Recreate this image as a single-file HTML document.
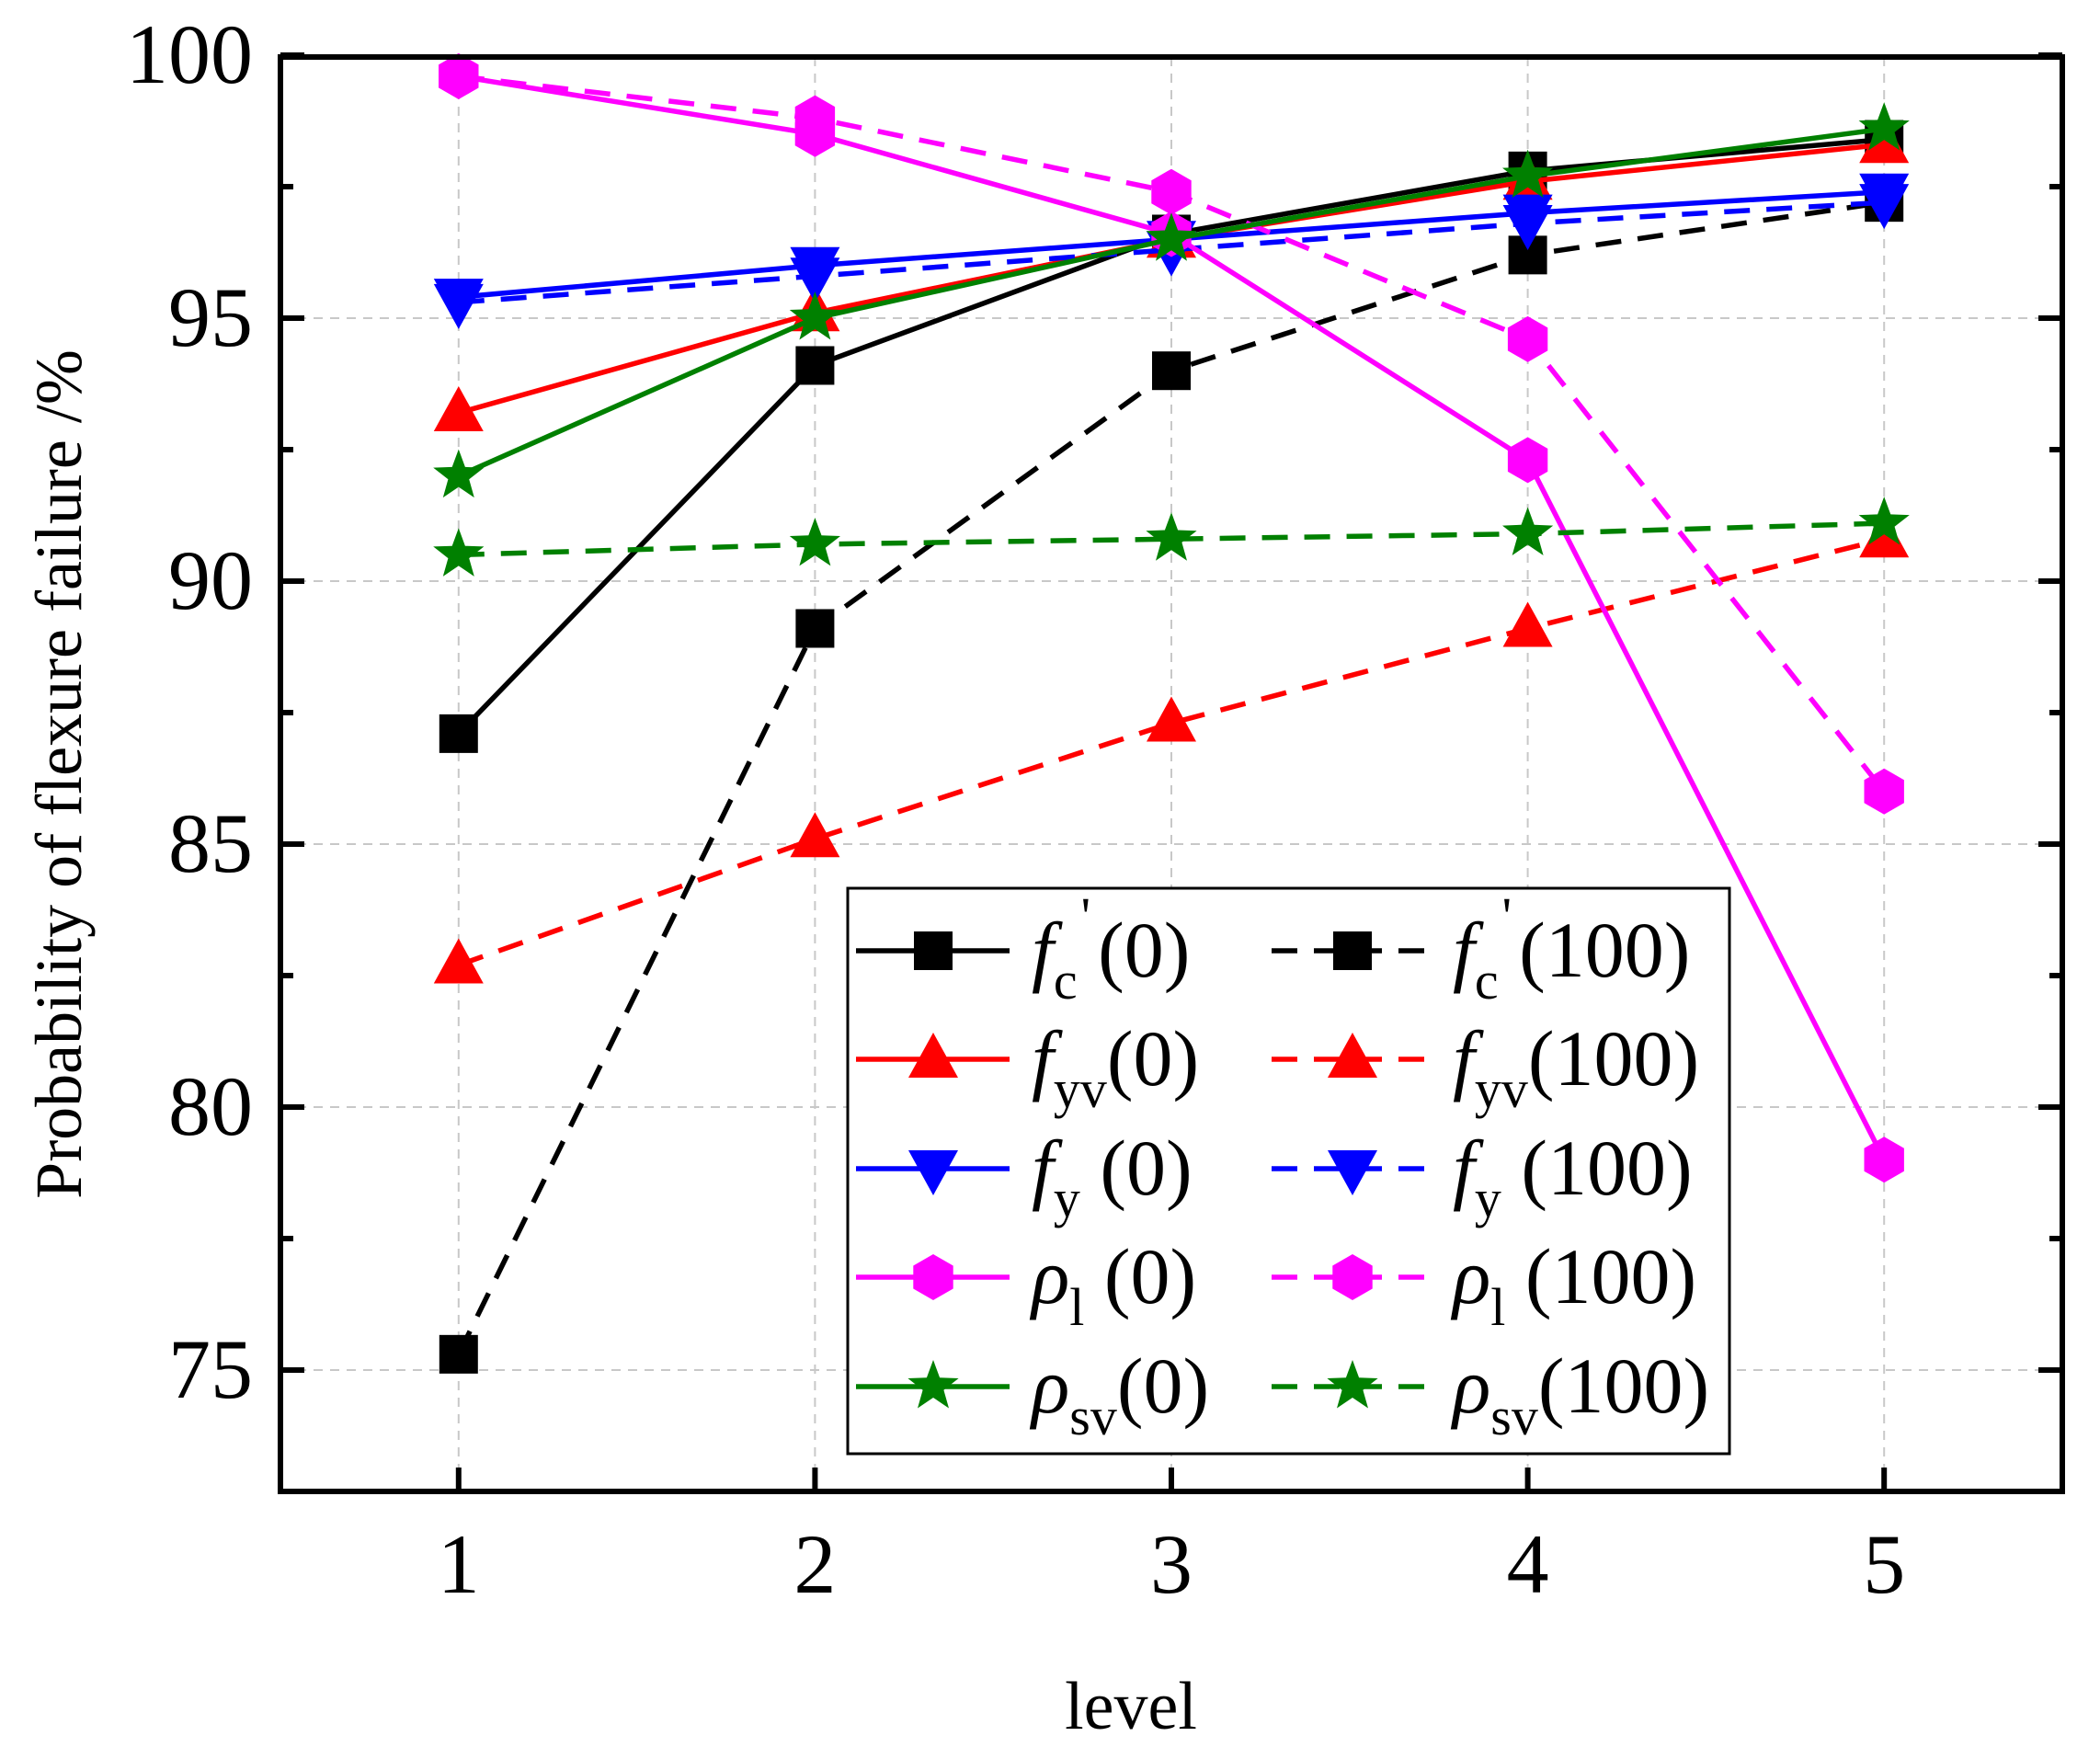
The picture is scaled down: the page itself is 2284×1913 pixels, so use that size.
<!DOCTYPE html>
<html><head><meta charset="utf-8"><style>
html,body{margin:0;padding:0;background:#fff;}
svg{display:block;font-family:"Liberation Serif",serif;}
</style></head><body>
<svg id="chart" width="2284" height="1913" viewBox="0 0 2284 1913" xmlns="http://www.w3.org/2000/svg">
<g id="grid"></g>
<g id="series"></g>
<rect x="305" y="62" width="1938" height="1560" fill="none" stroke="#000" stroke-width="6"/>
<g id="ticks"></g>
<text transform="translate(88,842) rotate(-90)" text-anchor="middle" font-size="72">Probability of flexure failure /%</text>
<text x="1230" y="1880" text-anchor="middle" font-size="74">level</text>
<g id="legend"></g>
</svg>
<script>
const levels = [1, 2, 3, 4, 5];
const yTicks = [75, 80, 85, 90, 95, 100];
const fc0 = [87.1, 94.1, 96.6, 97.8, 98.4];
const fc100 = [75.3, 89.1, 94.0, 96.2, 97.2];
const fyv0 = [93.2, 95.1, 96.5, 97.6, 98.3];
const fyv100 = [82.7, 85.1, 87.3, 89.1, 90.8];
const fy0 = [95.4, 96.0, 96.5, 97.0, 97.4];
const fy100 = [95.3, 95.8, 96.3, 96.8, 97.2];
const rho10 = [99.6, 98.5, 96.6, 92.3, 79.0];
const rho1100 = [99.6, 98.8, 97.4, 94.6, 86.0];
const rhosv0 = [92.0, 95.0, 96.5, 97.7, 98.6];
const rhosv100 = [90.5, 90.7, 90.8, 90.9, 91.1];

const NS = "http://www.w3.org/2000/svg";
const PL = 305, PR = 2243, PT = 62, PB = 1622;
function xs(v){ return PL + (v - 0.5) / 5 * (PR - PL); }
function ys(v){ return 346 - (v - 95) * 57.2; }
function mk(tag, attrs, parent){ const e = document.createElementNS(NS, tag); for (const k in attrs) e.setAttribute(k, attrs[k]); parent.appendChild(e); return e; }

const grid = document.getElementById('grid');
const ticks = document.getElementById('ticks');
levels.forEach(l => {
  const g = mk('line', {x1: xs(l), x2: xs(l), y1: PT, y2: PB, stroke: '#c8c8c8', 'stroke-width': 2, 'stroke-dasharray': '10 8'}, grid);
  
  
  const t = mk('line', {x1: xs(l), x2: xs(l), y1: PB, y2: PB - 26, stroke: '#000', 'stroke-width': 6}, ticks);
  
  
  const tx = mk('text', {x: xs(l), y: 1732, 'text-anchor': 'middle', 'font-size': 92}, ticks);
  tx.textContent = l;
  
  
});
yTicks.forEach(v => {
  if (v < 100) {
    const g = mk('line', {x1: PL, x2: PR, y1: ys(v), y2: ys(v), stroke: '#c8c8c8', 'stroke-width': 2, 'stroke-dasharray': '10 8'}, grid);
    
    
  }
  const t = mk('line', {x1: PL, x2: PL + 26, y1: ys(v), y2: ys(v), stroke: '#000', 'stroke-width': 6}, ticks);
  
  
  const t2 = mk('line', {x1: PR, x2: PR - 26, y1: ys(v), y2: ys(v), stroke: '#000', 'stroke-width': 6}, ticks);
  
  
  const m = mk('line', {x1: PL, x2: PL + 14, y1: ys(v + 2.5), y2: ys(v + 2.5), stroke: '#000', 'stroke-width': 6}, ticks);
  
  
  const m2 = mk('line', {x1: PR, x2: PR - 14, y1: ys(v + 2.5), y2: ys(v + 2.5), stroke: '#000', 'stroke-width': 6}, ticks);
  
  
  const tx = mk('text', {x: 275, y: ys(v) + 30, 'text-anchor': 'end', 'font-size': 92}, ticks);
  tx.textContent = v;
  
  
});

function marker(type, x, y, color, parent){
  let e;
  if (type === 'square') e = mk('rect', {x: x - 21, y: y - 21, width: 42, height: 42, fill: color}, parent);
  else if (type === 'up') e = mk('polygon', {points: `${x},${y-29} ${x-27},${y+20} ${x+27},${y+20}`, fill: color}, parent);
  else if (type === 'down') e = mk('polygon', {points: `${x},${y+29} ${x-27},${y-20} ${x+27},${y-20}`, fill: color}, parent);
  else if (type === 'hex') { const p = []; for (let i = 0; i < 6; i++){ const a = Math.PI/6 + i*Math.PI/3; p.push((x+25*Math.cos(a)).toFixed(1)+','+(y+25*Math.sin(a)).toFixed(1)); } e = mk('polygon', {points: p.join(' '), fill: color}, parent); }
  else { const p = []; for (let i = 0; i < 10; i++){ const r = i%2 ? 12 : 29; const a = -Math.PI/2 + i*Math.PI/5; p.push((x+r*Math.cos(a)).toFixed(1)+','+(y+r*Math.sin(a)).toFixed(1)); } e = mk('polygon', {points: p.join(' '), fill: color}, parent); }
  return e;
}

const seriesDefs = [
  ['fc-0', fc0, '#000', 'square', false],
  ['fc-100', fc100, '#000', 'square', true],
  ['fyv-0', fyv0, '#ff0000', 'up', false],
  ['fyv-100', fyv100, '#ff0000', 'up', true],
  ['fy-0', fy0, '#0000ff', 'down', false],
  ['fy-100', fy100, '#0000ff', 'down', true],
  ['rho1-0', rho10, '#ff00ff', 'hex', false],
  ['rho1-100', rho1100, '#ff00ff', 'hex', true],
  ['rhosv-0', rhosv0, '#008000', 'star', false],
  ['rhosv-100', rhosv100, '#008000', 'star', true]
];
const sl = document.getElementById('series');
seriesDefs.forEach(([name, vals, color, mt, dashed]) => {
  const g = mk('g', {}, sl);
  
  
  const pts = vals.map((v, i) => xs(levels[i]) + ',' + ys(v)).join(' ');
  const line = mk('polyline', {points: pts, fill: 'none', stroke: color, 'stroke-width': 5.5}, g);
  if (dashed) line.setAttribute('stroke-dasharray', '28 18');
  
  
  vals.forEach((v, i) => {
    const m = marker(mt, xs(levels[i]), ys(v), color, g);
    
    
  });
});

// legend
const lg = document.getElementById('legend');
const box = mk('rect', {x: 922, y: 966, width: 959, height: 615, fill: '#fff', stroke: '#000', 'stroke-width': 3}, lg);


const labels = [
  ['f', 'c', "'", '(0)', "'", '(100)'],
  ['f', 'yv', '', '(0)', '', '(100)'],
  ['f', 'y', '', ' (0)', '', ' (100)'],
  ['ρ', 'l', '', ' (0)', '', ' (100)'],
  ['ρ', 'sv', '', '(0)', '', '(100)']
];
const rowsY = [1034, 1152, 1271, 1389, 1508];
seriesDefs.forEach(([name, vals, color, mt, dashed], idx) => {
  const row = Math.floor(idx / 2), col = idx % 2;
  const y = rowsY[row];
  const g = mk('g', {}, lg);
  
  
  const x1 = col ? 1383 : 931, x2 = col ? 1552 : 1098, mx = col ? 1471 : 1015;
  const ln = mk('line', {x1: x1, x2: x2, y1: y, y2: y, stroke: color, 'stroke-width': 5.5}, g);
  if (dashed) ln.setAttribute('stroke-dasharray', '28 18');
  marker(mt, mx, y, color, g);
  const L = labels[row];
  const t = mk('text', {x: col ? 1580 : 1122, y: y + 28, 'font-size': 86}, g);
  const s1 = mk('tspan', {'font-style': 'italic'}, t); s1.textContent = L[0];
  const s2 = mk('tspan', {'font-size': 58, dy: 24}, t); s2.textContent = L[1];
  const pr = col ? L[4] : L[2];
  if (pr) {
    const sp = mk('tspan', {'font-size': 58, dy: -70, dx: 4}, t); sp.textContent = pr;
    const s3 = mk('tspan', {dy: 46, dx: 8}, t); s3.textContent = col ? L[5] : L[3];
  } else {
    const s3 = mk('tspan', {dy: -24}, t); s3.textContent = col ? L[5] : L[3];
  }
});
</script>
</body></html>
